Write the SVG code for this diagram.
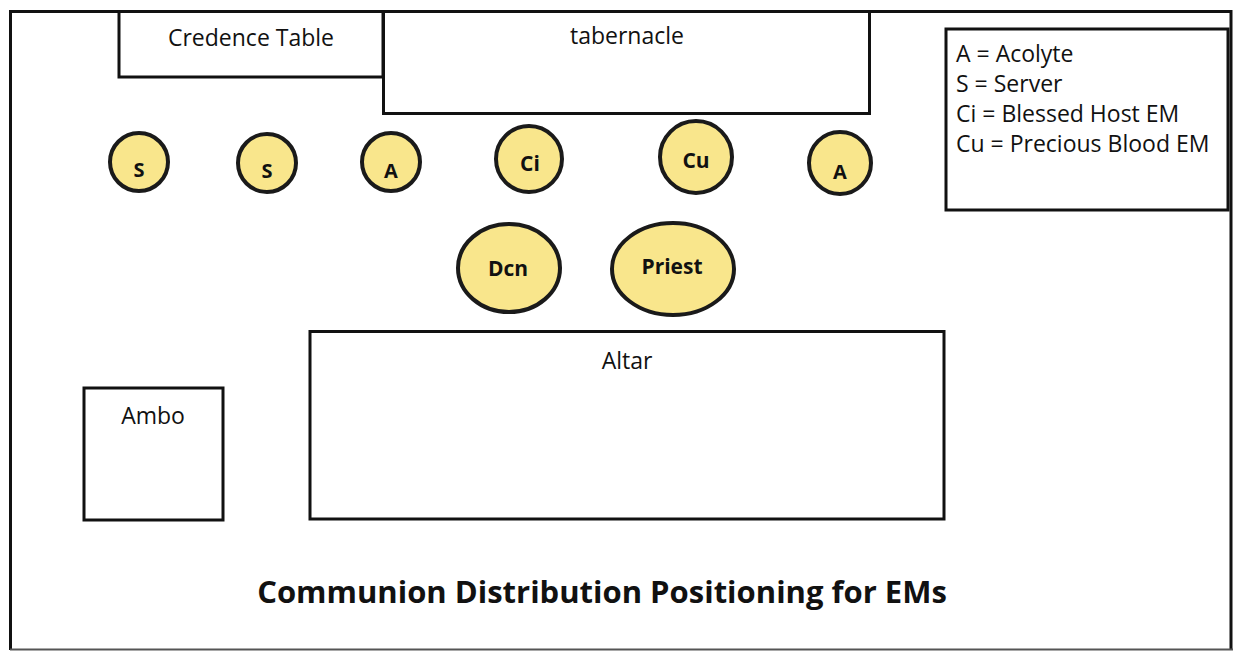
<svg xmlns="http://www.w3.org/2000/svg" width="1235" height="652" viewBox="0 0 1235 652">
<style>
.box{fill:#fff;stroke:#111;stroke-width:3}
.p{fill:#f9e68c;stroke:#1a1a1a;stroke-width:4}
.t{font-family:"Open Sans","Liberation Sans",sans-serif;font-size:23px;fill:#111}
.b{font-family:"Open Sans","Liberation Sans",sans-serif;font-weight:bold;fill:#111;text-anchor:middle}
</style>
<rect x="0" y="0" width="1235" height="652" fill="#fff"/>
<g id="frame"><path d="M10.5 650 V11.5 H1231 V650" fill="none" stroke="#111" stroke-width="3"/><path d="M10 649.5 H1233" stroke="#555" stroke-width="2"/></g>
<g id="credence"><rect class="box" x="119" y="11.5" width="264" height="65.5"/><text class="t" x="251" y="46" text-anchor="middle">Credence Table</text></g>
<g id="tabernacle"><rect class="box" x="383.5" y="11.5" width="486" height="102"/><text class="t" x="627" y="44" text-anchor="middle">tabernacle</text></g>
<g id="legend"><rect class="box" x="946" y="29" width="282" height="181"/>
<text class="t" x="956" y="62">A = Acolyte</text>
<text class="t" x="956" y="92">S = Server</text>
<text class="t" x="956" y="122">Ci = Blessed Host EM</text>
<text class="t" x="956" y="152">Cu = Precious Blood EM</text></g>
<g id="s1"><circle class="p" cx="139" cy="162" r="29"/><text class="b" x="139" y="177" font-size="20">S</text></g>
<g id="s2"><circle class="p" cx="267" cy="163" r="29"/><text class="b" x="267" y="178" font-size="20">S</text></g>
<g id="a1"><circle class="p" cx="391" cy="162" r="29"/><text class="b" x="391" y="178" font-size="20">A</text></g>
<g id="ci"><circle class="p" cx="529" cy="159" r="33"/><text class="b" x="530" y="171" font-size="21">Ci</text></g>
<g id="cu"><circle class="p" cx="696" cy="157" r="36"/><text class="b" x="696" y="168" font-size="21">Cu</text></g>
<g id="a2"><circle class="p" cx="840" cy="163" r="31"/><text class="b" x="840" y="179" font-size="20">A</text></g>
<g id="dcn"><ellipse class="p" cx="509" cy="268" rx="51" ry="44"/><text class="b" x="508" y="276" font-size="21">Dcn</text></g>
<g id="priest"><ellipse class="p" cx="673" cy="269" rx="61" ry="46"/><text class="b" x="672" y="274" font-size="21">Priest</text></g>
<g id="altar"><rect class="box" x="310" y="331.5" width="634" height="187.5"/><text class="t" x="627" y="369" text-anchor="middle">Altar</text></g>
<g id="ambo"><rect class="box" x="84" y="388" width="139" height="132"/><text class="t" x="153" y="424" text-anchor="middle">Ambo</text></g>
<g id="connectors"/>
<text x="602" y="603" font-family="'Open Sans','Liberation Sans',sans-serif" font-weight="bold" font-size="31" text-anchor="middle" fill="#111">Communion Distribution Positioning for EMs</text>
</svg>
